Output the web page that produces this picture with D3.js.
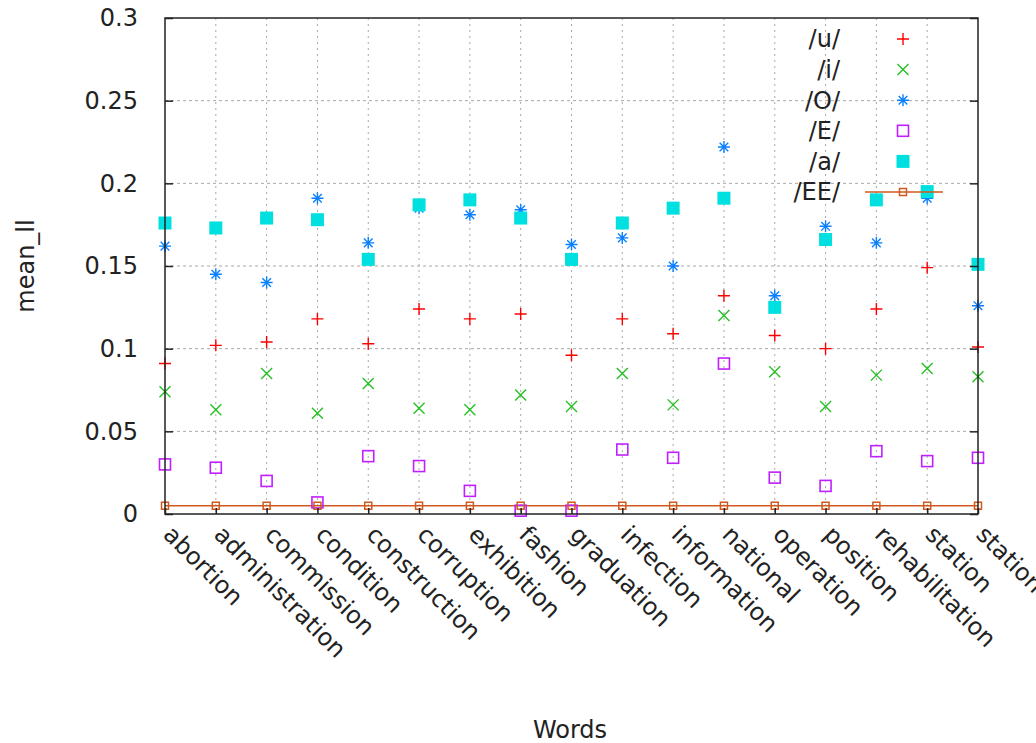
<!DOCTYPE html>
<html>
<head>
<meta charset="utf-8">
<script src="https://cdn.jsdelivr.net/npm/d3@7"></script>
<style>
  body { margin: 0; background: #fff; }
  text { font-family: "DejaVu Sans", sans-serif; fill: #222; }
</style>
</head>
<body>
<div id="d3-container"></div>
<script>
/**
 * CONSTANTS AND GLOBALS
 * */
const width = 1036,
  height = 743,
  margin = { top: 18, bottom: 229, left: 165, right: 58 };

/**
 * DATA
 * */
const words = ["abortion", "administration", "commission", "condition", "construction",
  "corruption", "exhibition", "fashion", "graduation", "infection", "information",
  "national", "operation", "position", "rehabilitation", "station", "station"];

const seriesNames = ["/u/", "/i/", "/O/", "/E/", "/a/", "/EE/"];

const uValues = [0.091, 0.102, 0.104, 0.118, 0.103, 0.124, 0.118, 0.121, 0.096, 0.118, 0.109, 0.132, 0.108, 0.100, 0.124, 0.149, 0.101];
const iValues = [0.074, 0.063, 0.085, 0.061, 0.079, 0.064, 0.063, 0.072, 0.065, 0.085, 0.066, 0.120, 0.086, 0.065, 0.084, 0.088, 0.083];
const oValues = [0.162, 0.145, 0.140, 0.191, 0.164, 0.185, 0.181, 0.184, 0.163, 0.167, 0.150, 0.222, 0.132, 0.174, 0.164, 0.191, 0.126];
const eValues = [0.030, 0.028, 0.020, 0.007, 0.035, 0.029, 0.014, 0.002, 0.002, 0.039, 0.034, 0.091, 0.022, 0.017, 0.038, 0.032, 0.034];
const aValues = [0.176, 0.173, 0.179, 0.178, 0.154, 0.187, 0.190, 0.179, 0.154, 0.176, 0.185, 0.191, 0.125, 0.166, 0.190, 0.195, 0.151];
const eeValues = [0.005, 0.005, 0.005, 0.005, 0.005, 0.005, 0.005, 0.005, 0.005, 0.005, 0.005, 0.005, 0.005, 0.005, 0.005, 0.005, 0.005];

const yTicks = [0, 0.05, 0.1, 0.15, 0.2, 0.25, 0.3];

const colors = ["#ff0000", "#22c022", "#0a80ff", "#c020ff", "#00e0e0", "#d05a1e"];
const shapes = ["plus", "cross", "star", "box", "fbox", "smallbox"];

const series = seriesNames.map((name, k) => ({
  name,
  color: colors[k],
  shape: shapes[k],
  values: [uValues, iValues, oValues, eValues, aValues, eeValues][k]
}));

/**
 * SCALES
 * */
const x = d3.scalePoint()
  .domain(d3.range(words.length))
  .range([margin.left, width - margin.right]);

const y = d3.scaleLinear()
  .domain([0, 0.3])
  .range([height - margin.bottom, margin.top]);

const svg = d3.select("#d3-container")
  .append("svg")
  .attr("width", width)
  .attr("height", height);

const x0 = margin.left, x1 = width - margin.right,
  yTop = margin.top, yBot = height - margin.bottom;

// grid
svg.append("g")
  .selectAll("line.hgrid")
  .data(yTicks.filter(t => t > 0 && t < 0.3))
  .join("line")
  .attr("x1", x0).attr("x2", x1)
  .attr("y1", d => y(d)).attr("y2", d => y(d))
  .attr("stroke", "#a8a8a8")
  .attr("stroke-dasharray", "3,3");

svg.append("g")
  .selectAll("line.vgrid")
  .data(d3.range(1, words.length - 1))
  .join("line")
  .attr("x1", d => x(d)).attr("x2", d => x(d))
  .attr("y1", yTop).attr("y2", yBot)
  .attr("stroke", "#a8a8a8")
  .attr("stroke-dasharray", "2,4");

// marker drawing helper
function marker(sel, shape, color) {
  const s = 6;
  if (shape === "plus" || shape === "star") {
    sel.append("path").attr("d", `M${-s},0H${s}M0,${-s}V${s}`)
      .attr("stroke", color).attr("stroke-width", 1.4);
  }
  if (shape === "cross" || shape === "star") {
    const c = shape === "star" ? 4.3 : 5.5;
    sel.append("path").attr("d", `M${-c},${-c}L${c},${c}M${-c},${c}L${c},${-c}`)
      .attr("stroke", color).attr("stroke-width", 1.4);
  }
  if (shape === "star") {
    sel.append("circle").attr("r", 1.8).attr("fill", color);
  }
  if (shape === "box") {
    sel.append("rect").attr("x", -5.5).attr("y", -5.5).attr("width", 11).attr("height", 11)
      .attr("fill", "none").attr("stroke", color).attr("stroke-width", 1.6);
  }
  if (shape === "fbox") {
    sel.append("rect").attr("x", -6.5).attr("y", -6.5).attr("width", 13).attr("height", 13)
      .attr("fill", color);
  }
  if (shape === "smallbox") {
    sel.append("rect").attr("x", -3.5).attr("y", -3.5).attr("width", 7).attr("height", 7)
      .attr("fill", "none").attr("stroke", color).attr("stroke-width", 1.5);
  }
}

// EE line
const eeSeries = series[5];
svg.append("path")
  .datum(eeSeries.values)
  .attr("fill", "none")
  .attr("stroke", eeSeries.color)
  .attr("stroke-width", 1.6)
  .attr("d", d3.line().x((d, k) => x(k)).y(d => y(d)));

// points
series.forEach(s => {
  svg.append("g")
    .selectAll("g")
    .data(s.values)
    .join("g")
    .attr("transform", (d, k) => `translate(${x(k)},${y(d)})`)
    .each(function () { marker(d3.select(this), s.shape, s.color); });
});

// border
svg.append("rect")
  .attr("x", x0).attr("y", yTop)
  .attr("width", x1 - x0).attr("height", yBot - yTop)
  .attr("fill", "none")
  .attr("stroke", "#222")
  .attr("stroke-width", 1.5);

// y ticks (left and mirrored right)
const yAxisL = d3.axisLeft(y).tickValues(yTicks).tickSize(-8).tickPadding(27)
  .tickFormat(d => d === 0 ? "0" : String(+d.toFixed(2)));
svg.append("g")
  .attr("transform", `translate(${x0},0)`)
  .call(yAxisL)
  .call(g => g.select(".domain").remove())
  .call(g => g.selectAll("line").attr("stroke", "#222").attr("stroke-width", 1.5))
  .call(g => g.selectAll("text").attr("font-size", 24).attr("font-family", "DejaVu Sans").attr("fill", "#333"));

svg.append("g")
  .attr("transform", `translate(${x1},0)`)
  .call(d3.axisRight(y).tickValues(yTicks).tickSize(-8).tickFormat(""))
  .call(g => g.select(".domain").remove())
  .call(g => g.selectAll("line").attr("stroke", "#222").attr("stroke-width", 1.5));

// x ticks
svg.append("g")
  .attr("transform", `translate(0,${yBot})`)
  .call(d3.axisBottom(x).tickSize(-6).tickFormat(""))
  .call(g => g.select(".domain").remove())
  .call(g => g.selectAll("line").attr("stroke", "#222").attr("stroke-width", 1.5));

// rotated word labels
svg.append("g")
  .selectAll("text")
  .data(words)
  .join("text")
  .attr("transform", (d, k) => `translate(${x(k) - 3},${yBot + 22}) rotate(45)`)
  .attr("font-size", 24)
  .attr("fill", "#333")
  .text(d => d);

// axis titles
svg.append("text")
  .attr("transform", `translate(34,${(yTop + yBot) / 2}) rotate(-90)`)
  .attr("text-anchor", "middle")
  .attr("font-size", 24)
  .attr("fill", "#333")
  .text("mean_ll");

svg.append("text")
  .attr("x", 570)
  .attr("y", 738)
  .attr("text-anchor", "middle")
  .attr("font-size", 24)
  .attr("fill", "#333")
  .text("Words");

// legend
const legend = svg.append("g")
  .selectAll("g")
  .data(series)
  .join("g")
  .attr("transform", (d, k) => `translate(0,${39 + k * 30.6})`);

legend.append("text")
  .attr("x", 840)
  .attr("dy", "0.35em")
  .attr("text-anchor", "end")
  .attr("font-size", 24)
  .attr("fill", "#333")
  .text(d => d.name);

legend.filter(d => d.shape === "smallbox")
  .append("line")
  .attr("x1", 865).attr("x2", 943)
  .attr("stroke", d => d.color)
  .attr("stroke-width", 1.6);

legend.append("g")
  .attr("transform", "translate(903,0)")
  .each(function (d) { marker(d3.select(this), d.shape, d.color); });
</script>
</body>
</html>
